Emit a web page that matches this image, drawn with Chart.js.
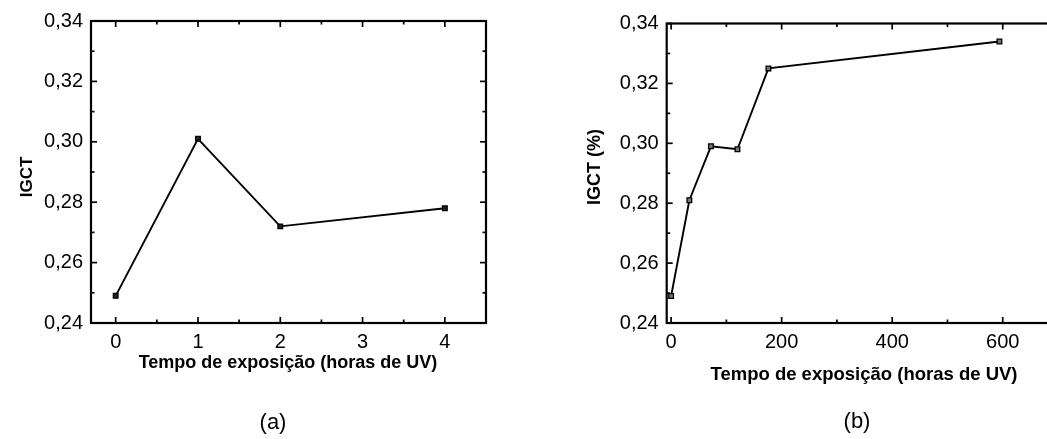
<!DOCTYPE html>
<html>
<head>
<meta charset="utf-8">
<script src="https://cdn.jsdelivr.net/npm/chart.js@4.4.0/dist/chart.umd.min.js"></script>
<style>
  html,body{margin:0;padding:0;background:#fff;overflow:hidden;width:1047px;height:439px;}
  canvas{position:absolute;top:0;}
  #chartA{left:0;}
  #chartB{left:520px;}
</style>
</head>
<body>
<canvas id="chartA" width="520" height="439"></canvas>
<canvas id="chartB" width="560" height="439"></canvas>
<script>
// --- dados ---
const horasA = [0, 1, 2, 4];
const igctA = [0.249, 0.301, 0.272, 0.278];
const horasB = [0, 33, 72, 120, 176, 594];
const igctB = [0.249, 0.281, 0.299, 0.298, 0.325, 0.334];

const yMajor = [0.24, 0.26, 0.28, 0.30, 0.32, 0.34];
const yMinor = [0.25, 0.27, 0.29, 0.31, 0.33];
const xMajorA = [0, 1, 2, 3, 4];
const xMinorA = [0.5, 1.5, 2.5, 3.5];
const xMajorB = [0, 200, 400, 600];
const xMinorB = [100, 300, 500, 700];

const xTitle = "Tempo de exposição (horas de UV)";
const FONT = "'Liberation Sans', Arial, sans-serif";

// moldura + ticks para dentro + titulos
const framePlugin = {
  id: "frame",
  afterDraw(chart, args, o){
    const {ctx, chartArea:a, scales:{x, y}} = chart;
    ctx.save();
    ctx.strokeStyle = "#000";
    ctx.lineWidth = 2.2;
    ctx.strokeRect(a.left, a.top, a.right - a.left, a.bottom - a.top);
    ctx.lineWidth = 1.7;
    const seg = (x1,y1,x2,y2)=>{ctx.beginPath();ctx.moveTo(x1,y1);ctx.lineTo(x2,y2);ctx.stroke();};
    const xt = (vals,len)=>vals.forEach(v=>{
      const px = x.getPixelForValue(v);
      if(px < a.left-1 || px > a.right+1) return;
      seg(px, a.bottom, px, a.bottom-len);
      seg(px, a.top, px, a.top+len);
    });
    const yt = (vals,len)=>vals.forEach(v=>{
      const py = y.getPixelForValue(v);
      seg(a.left, py, a.left+len, py);
      seg(a.right, py, a.right-len, py);
    });
    xt(o.xMajor, 6); xt(o.xMinor, 3.5);
    yt(yMajor, 6); yt(yMinor, 3.5);

    ctx.fillStyle = "#000";
    ctx.textAlign = "center";
    ctx.textBaseline = "middle";
    ctx.font = "bold " + o.xTitleSize + "px " + FONT;
    ctx.fillText(xTitle, o.xTitlePos[0], o.xTitlePos[1]);
    ctx.save();
    ctx.translate(o.yTitlePos[0], o.yTitlePos[1]);
    ctx.rotate(-Math.PI/2);
    ctx.font = "bold " + o.yTitleSize + "px " + FONT;
    ctx.fillText(o.yTitle, 0, 0);
    ctx.restore();
    ctx.font = "22px " + FONT;
    ctx.fillText(o.caption, o.captionPos[0], o.captionPos[1]);
    ctx.restore();
  }
};

function makeChart(id, xs, ys, xMin, xMax, xMajor, xMinor, pad, yWidth, frameOpts, pointBg){
  const pts = xs.map((v,i)=>({x:v, y:ys[i]}));
  return new Chart(document.getElementById(id), {
    type: "line",
    data: { datasets: [{
      data: pts,
      borderColor: "#000",
      borderWidth: 1.9,
      pointStyle: "rect",
      pointRadius: 3.3,
      pointBorderWidth: 1.3,
      pointBorderColor: "#000",
      pointBackgroundColor: pointBg,
      tension: 0,
      clip: false
    }]},
    options: {
      responsive: false,
      animation: false,
      devicePixelRatio: 1,
      layout: { padding: pad },
      plugins: { legend:{display:false}, tooltip:{enabled:false}, frame: frameOpts },
      scales: {
        x: {
          type: "linear", min: xMin, max: xMax,
          grid: { display:false, drawTicks:false },
          border: { display:false },
          afterFit: s => { s.height = 439 - 323; },
          afterBuildTicks: s => { s.ticks = xMajor.map(v=>({value:v})); },
          ticks: { padding: 7, color:"#000", maxRotation:0, autoSkip:false,
                   font:{family:FONT, size:20}, callback: v => String(v) }
        },
        y: {
          min: 0.24, max: 0.34,
          grid: { display:false, drawTicks:false },
          border: { display:false },
          afterFit: s => { s.width = yWidth; },
          afterBuildTicks: s => { s.ticks = yMajor.map(v=>({value:v})); },
          ticks: { padding: 8, color:"#000", autoSkip:false,
                   font:{family:FONT, size:20}, callback: v => v.toFixed(2).replace(".", ",") }
        }
      }
    },
    plugins: [framePlugin]
  });
}

makeChart("chartA", horasA, igctA, -0.3, 4.5, xMajorA, xMinorA,
  {left:0, top:21, right:34, bottom:0}, 91,
  {xMajor:xMajorA, xMinor:xMinorA, xTitleSize:18, xTitlePos:[288,363],
   yTitle:"IGCT", yTitleSize:17, yTitlePos:[27,177], caption:"(a)", captionPos:[273,423]},
  "#222");

makeChart("chartB", horasB, igctB, -8, 700, xMajorB, xMinorB,
  {left:0, top:23.5, right:22, bottom:0}, 146.7,
  {xMajor:xMajorB, xMinor:xMinorB, xTitleSize:18.5, xTitlePos:[344,375],
   yTitle:"IGCT (%)", yTitleSize:18, yTitlePos:[75,167], caption:"(b)", captionPos:[337,422]},
  "#777");
</script>
</body>
</html>
